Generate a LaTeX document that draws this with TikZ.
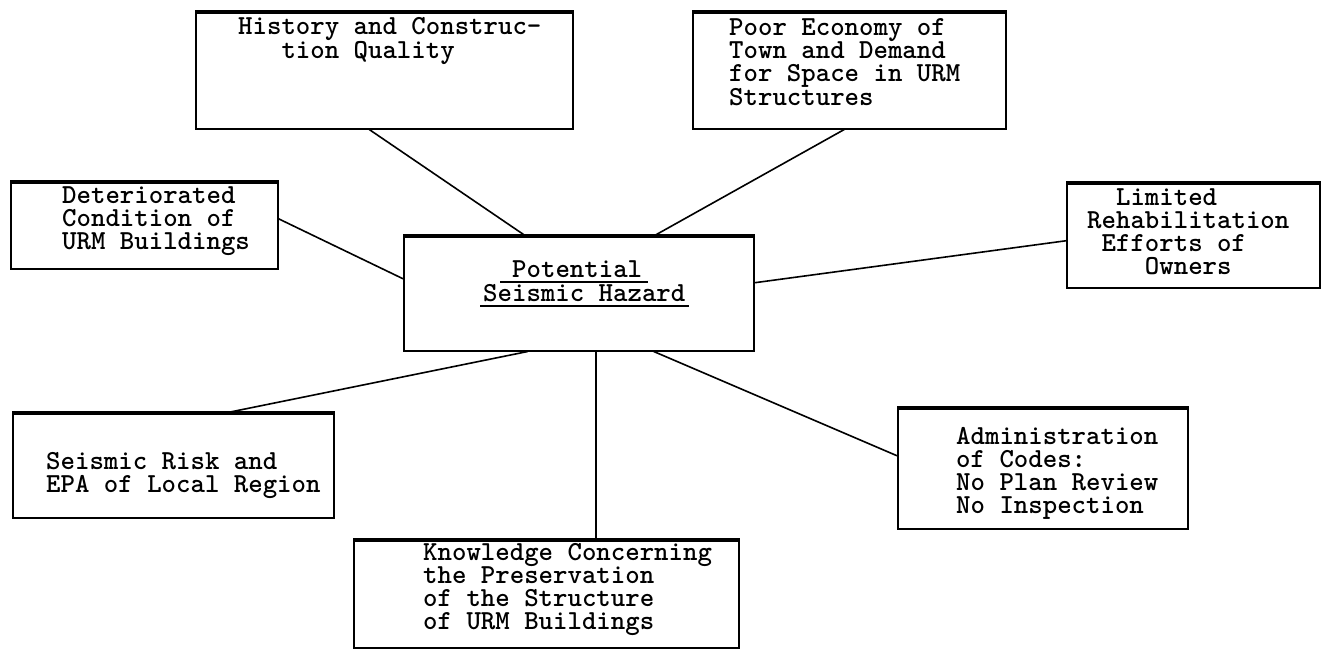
\documentclass[tikz,border=0pt]{standalone}
\usepackage{tikz}

% n blank typewriter columns
\newcommand{\cols}[1]{\hspace*{#1\fontcharwd\font`x}}

\begin{document}
\begin{tikzpicture}[x=1pt, y=-1pt,
  box/.style={draw, line width=1.5pt, anchor=north west, inner sep=0pt},
  txt/.style={anchor=north west, align=left, inner sep=0pt,
    font=\ttfamily\bfseries\fontsize{27.5}{23}\selectfont,
    execute at begin node={\rule{0pt}{20pt}}},
  link/.style={line width=1.6pt}]
\useasboundingbox (0,0) rectangle (1326,649);
% boxes
\node[box, minimum width=377pt, minimum height=116pt] (hist) at (195,12) {};
\node[box, minimum width=313pt, minimum height=116pt] (poor) at (692,12) {};
\node[box, minimum width=267pt, minimum height=86pt] (det) at (10,182) {};
\node[box, minimum width=350pt, minimum height=114pt] (centre) at (403,236) {};
\node[box, minimum width=253pt, minimum height=104pt] (lim) at (1066,183) {};
\node[box, minimum width=321pt, minimum height=104pt] (risk) at (12,413) {};
\node[box, minimum width=290pt, minimum height=120pt] (admin) at (897,408) {};
\node[box, minimum width=385pt, minimum height=107pt] (know) at (353,540) {};
% heavy top edges
\foreach \b in {hist,poor,det,centre,lim,risk,admin,know}
  \draw[line width=3.5pt] (\b.north west) -- (\b.north east);
% texts
\node[txt] (histtxt) at (238,17) {History and Construc-\\\cols{3}tion Quality};
\node[txt] (poortxt) at (729,18) {Poor Economy of\\Town and Demand\\for Space in URM\\Structures};
\node[txt] (dettxt) at (62,186) {Deteriorated\\Condition of\\URM Buildings};
\node[txt, anchor=base west] (pot) at (512,277) {Potential};
\node[txt, anchor=base west] (haz) at (483,301) {Seismic Hazard};
\draw[line width=2pt] ([shift={(-12pt,-5pt)}]pot.base west) -- ([shift={(6pt,-5pt)}]pot.base east);
\draw[line width=2pt] ([shift={(-3pt,-5pt)}]haz.base west) -- ([shift={(3pt,-5pt)}]haz.base east);
\node[txt] (limtxt) at (1087,188) {\cols{2}Limited\\Rehabilitation\\\cols{1}Efforts of\\\cols{4}Owners};
\node[txt] (risktxt) at (46,452) {Seismic Risk and\\EPA of Local Region};
\node[txt] (admintxt) at (956,427) {Administration\\of Codes:\\No Plan Review\\No Inspection};
\node[txt] (knowtxt) at (423,543) {Knowledge Concerning\\the Preservation\\of the Structure\\of URM Buildings};
% connectors
\draw[link] ([xshift=-15pt]hist.south) -- ([xshift=-53pt]centre.north);
\draw[link] ([xshift=-5pt]poor.south) -- ([xshift=75pt]centre.north);
\draw[link] ([yshift=7pt]det.east) -- ([yshift=15pt]centre.west);
\draw[link] ([yshift=11pt]centre.east) -- ([yshift=-5pt]lim.west);
\draw[link] ([xshift=52pt]risk.north) -- ([xshift=-51pt]centre.south);
\draw[link] ([xshift=17pt]centre.south) -- ([xshift=17pt]centre.south |- know.north);
\draw[link] ([xshift=75pt]centre.south) -- ([yshift=13pt]admin.west);
\end{tikzpicture}
\end{document}
